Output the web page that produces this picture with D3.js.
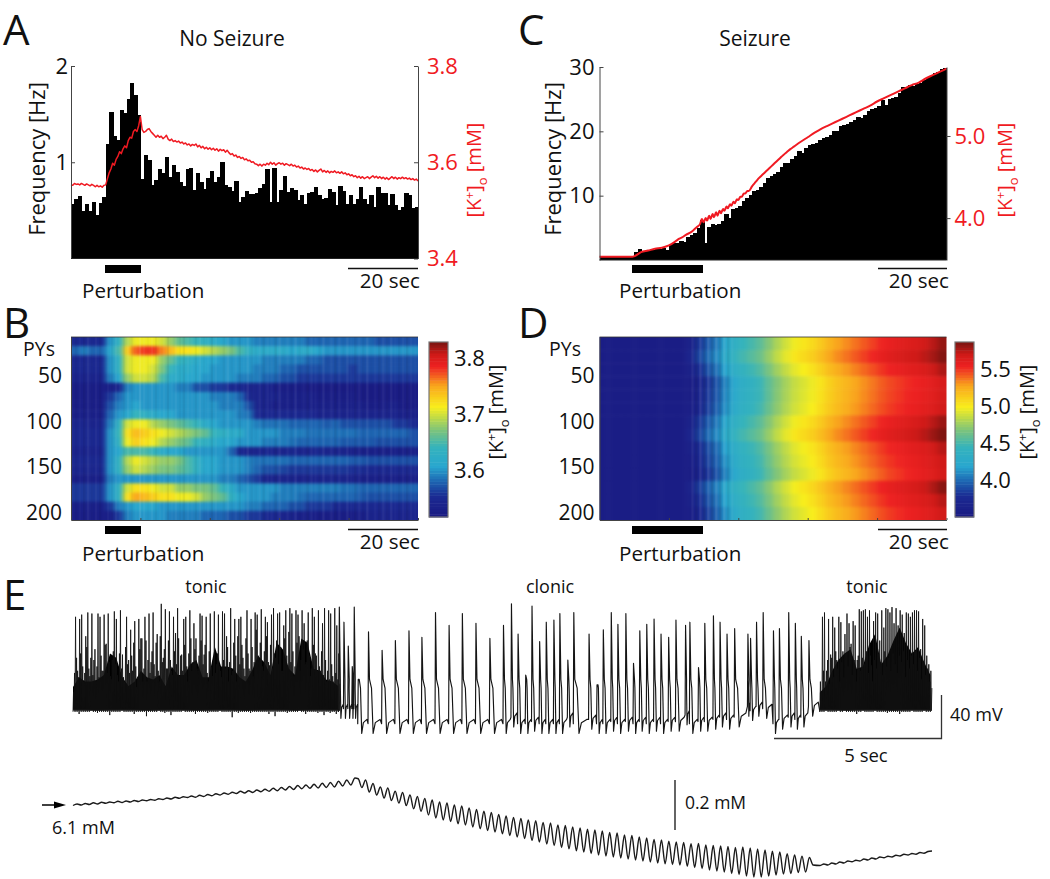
<!DOCTYPE html>
<html><head><meta charset="utf-8"><title>Seizure figure</title>
<script src="https://cdn.jsdelivr.net/npm/d3@7"></script>
<style>
html,body{margin:0;padding:0;background:#fff}
svg{display:block}
text{font-family:"Open Sans","Noto Sans",sans-serif;fill:#111}
.domain{stroke:#444;stroke-width:1}
.tick line{stroke:#444;stroke-width:1}
</style></head><body><svg id="c" width="1050" height="879"></svg>
<script>
// ---------- Panel A: firing rate (Hz) per second, and [K+]o every 0.5 s
const rateNoSeizure=[.57,.62,.65,.49,.57,.49,.59,.45,.58,.64,1.19,1.52,1.27,1.23,1.54,1.51,1.66,1.82,1.70,1.49,.83,1.08,1.02,.76,.82,.93,.89,1.05,.85,.97,.90,.80,.75,.93,.94,.71,.89,.79,.72,.84,.91,.79,.85,1.0,.76,.74,.70,.81,.59,.64,.70,.67,.67,.68,.73,.77,.93,.59,.94,.59,.71,.86,.69,.73,.71,.61,.66,.57,.68,.69,.74,.66,.62,.63,.72,.69,.56,.75,.70,.57,.66,.57,.62,.74,.62,.57,.66,.53,.74,.68,.68,.56,.67,.56,.50,.54,.68,.66,.52,.54];
const kNoSeizure=[3.553,3.552,3.556,3.554,3.555,3.553,3.556,3.554,3.552,3.555,3.553,3.551,3.554,3.552,3.549,3.552,3.549,3.551,3.548,3.552,3.553,
3.566,3.578,3.586,3.598,3.594,3.606,3.612,3.622,3.618,3.628,3.634,3.63,3.645,3.652,3.65,3.664,3.668,3.664,3.676,3.695,
3.668,3.662,3.664,3.668,3.67,3.664,3.66,3.656,3.652,3.656,3.652,3.654,3.649,3.652,3.656,3.648,3.645,3.648,3.643,3.645,
3.642,3.644,3.64,3.642,3.638,3.64,3.636,3.638,3.634,3.637,3.635,3.638,3.632,3.635,3.63,3.633,3.628,3.631,3.627,3.63,
3.626,3.629,3.625,3.628,3.623,3.627,3.624,3.626,3.621,3.625,3.62,3.616,3.618,3.613,3.615,3.61,3.612,3.608,3.61,3.605,
3.607,3.603,3.604,3.6,3.601,3.597,3.596,3.593,3.596,3.592,3.596,3.594,3.598,3.595,3.6,3.596,3.599,3.594,3.597,3.599,
3.596,3.598,3.594,3.597,3.595,3.593,3.596,3.592,3.594,3.59,3.592,3.588,3.59,3.586,3.588,3.585,3.587,3.583,3.585,3.581,
3.584,3.58,3.583,3.586,3.58,3.583,3.579,3.582,3.578,3.581,3.579,3.582,3.578,3.58,3.577,3.58,3.576,3.578,3.574,3.576,
3.572,3.574,3.57,3.572,3.568,3.571,3.567,3.57,3.566,3.568,3.57,3.566,3.569,3.572,3.568,3.571,3.567,3.57,3.566,3.569,
3.565,3.568,3.564,3.567,3.57,3.566,3.569,3.565,3.568,3.566,3.569,3.566,3.568,3.565,3.567,3.564,3.566,3.563,3.565,3.561];

// ---------- Panel C
const rateSeizure=[.5,.5,.5,.5,.5,.5,.5,.5,.5,.5,1.3,1.66,1.45,1.45,1.55,1.55,1.7,1.7,1.8,1.55,2.3,2.6,2.7,3.0,2.85,3.6,3.9,4.25,4.9,6.2,2.6,5.1,5.6,5.4,5.6,6.0,7.2,6.5,8.0,8.1,8.4,9.1,9.6,10.1,10.8,10.9,11.4,12.0,12.7,13.0,13.4,13.75,14.5,15.1,15.1,15.7,16.2,17.0,16.7,17.4,17.9,18.1,18.2,18.6,18.9,19.1,19.5,20,20,20.8,21,21.2,21.4,21.7,22.2,22.0,22.6,23.1,23.5,23.6,24,24.8,24.1,25,25.2,25.4,26,26.9,26.7,27.2,27.1,27.4,27.5,28,28.4,28.6,29,29.3,29.7,29.8];
const kSeizureT=[0,5,9.5,10,12,14,16,18,20,22,23,24,25,26,27,28,29,29.5,30,30.6,31,31.6,32,32.6,33,33.6,34,34.6,35,35.6,36,36.6,37,37.6,38,38.6,39,39.6,40,40.6,41,41.6,42,42.6,43,44,45,46,47,48,49,50,51,52,53,54,55,56,58,60,62,64,66,68,70,72,74,76,78,80,82,84,86,88,90,92,94,96,98,100];
const kSeizureV=[3.53,3.53,3.53,3.535,3.585,3.605,3.626,3.64,3.667,3.72,3.75,3.77,3.8,3.82,3.85,3.89,3.93,3.99,3.95,4.0,3.97,4.03,3.99,4.05,4.01,4.07,4.03,4.09,4.06,4.11,4.09,4.14,4.12,4.17,4.15,4.2,4.18,4.23,4.22,4.26,4.26,4.3,4.3,4.33,4.33,4.39,4.44,4.49,4.53,4.57,4.61,4.65,4.69,4.73,4.77,4.805,4.84,4.87,4.93,4.985,5.04,5.09,5.13,5.17,5.21,5.25,5.29,5.33,5.37,5.42,5.46,5.5,5.54,5.58,5.62,5.65,5.7,5.74,5.78,5.82];

// ---------- Panel B heat map: 20 cell groups (10 PYs each) x 40 time bins (2.5 s)
const heatNoSeizure=[
[3.55,3.55,3.55,3.55,3.60,3.63,3.69,3.71,3.71,3.71,3.70,3.68,3.66,3.65,3.64,3.63,3.62,3.61,3.60,3.60,3.60,3.59,3.59,3.59,3.59,3.59,3.59,3.58,3.58,3.58,3.58,3.58,3.58,3.58,3.58,3.57,3.57,3.57,3.57,3.57],
[3.58,3.59,3.58,3.58,3.61,3.65,3.73,3.77,3.78,3.78,3.76,3.74,3.72,3.72,3.71,3.70,3.69,3.68,3.67,3.65,3.63,3.62,3.62,3.62,3.62,3.61,3.62,3.62,3.61,3.60,3.60,3.60,3.60,3.60,3.60,3.60,3.60,3.60,3.60,3.60],
[3.55,3.55,3.55,3.55,3.60,3.63,3.70,3.71,3.71,3.71,3.68,3.66,3.64,3.63,3.62,3.61,3.61,3.60,3.60,3.60,3.60,3.60,3.59,3.59,3.59,3.59,3.59,3.58,3.58,3.57,3.57,3.57,3.57,3.57,3.57,3.57,3.57,3.57,3.57,3.57],
[3.55,3.55,3.55,3.55,3.60,3.63,3.70,3.71,3.71,3.70,3.67,3.64,3.62,3.62,3.61,3.61,3.60,3.60,3.60,3.60,3.60,3.59,3.59,3.59,3.58,3.58,3.57,3.57,3.57,3.57,3.57,3.57,3.56,3.57,3.57,3.57,3.57,3.57,3.57,3.57],
[3.54,3.54,3.54,3.54,3.59,3.61,3.68,3.70,3.70,3.69,3.65,3.62,3.62,3.61,3.61,3.60,3.60,3.60,3.60,3.59,3.59,3.59,3.58,3.58,3.57,3.57,3.56,3.56,3.56,3.56,3.56,3.56,3.56,3.56,3.56,3.56,3.56,3.56,3.56,3.56],
[3.525,3.525,3.525,3.525,3.53,3.54,3.59,3.60,3.60,3.60,3.60,3.60,3.59,3.59,3.57,3.57,3.56,3.56,3.55,3.55,3.54,3.54,3.54,3.53,3.525,3.525,3.525,3.52,3.52,3.52,3.52,3.52,3.52,3.52,3.52,3.52,3.52,3.52,3.52,3.52],
[3.525,3.525,3.525,3.525,3.56,3.58,3.60,3.60,3.60,3.60,3.60,3.60,3.60,3.60,3.60,3.60,3.59,3.59,3.59,3.58,3.55,3.54,3.54,3.54,3.53,3.53,3.53,3.53,3.525,3.525,3.525,3.525,3.525,3.52,3.52,3.52,3.52,3.52,3.52,3.52],
[3.525,3.525,3.525,3.525,3.57,3.59,3.60,3.61,3.60,3.60,3.60,3.60,3.60,3.60,3.60,3.60,3.60,3.59,3.59,3.59,3.57,3.54,3.54,3.53,3.53,3.53,3.53,3.53,3.53,3.53,3.53,3.53,3.53,3.53,3.525,3.525,3.53,3.53,3.52,3.52],
[3.53,3.53,3.53,3.53,3.58,3.60,3.61,3.64,3.63,3.62,3.61,3.61,3.60,3.60,3.60,3.60,3.60,3.60,3.60,3.59,3.585,3.55,3.55,3.55,3.55,3.55,3.55,3.55,3.54,3.54,3.54,3.54,3.54,3.54,3.54,3.54,3.54,3.54,3.53,3.53],
[3.545,3.545,3.54,3.545,3.59,3.63,3.70,3.71,3.71,3.69,3.68,3.67,3.66,3.65,3.64,3.62,3.61,3.60,3.60,3.60,3.60,3.59,3.585,3.585,3.585,3.58,3.58,3.58,3.58,3.575,3.58,3.57,3.57,3.57,3.57,3.57,3.57,3.56,3.56,3.55],
[3.55,3.55,3.55,3.55,3.60,3.64,3.72,3.74,3.73,3.72,3.71,3.70,3.69,3.68,3.67,3.66,3.64,3.63,3.62,3.62,3.60,3.60,3.60,3.60,3.59,3.59,3.59,3.585,3.585,3.585,3.585,3.585,3.585,3.58,3.58,3.58,3.58,3.58,3.58,3.57],
[3.55,3.55,3.55,3.55,3.60,3.63,3.71,3.73,3.72,3.71,3.69,3.68,3.67,3.66,3.64,3.63,3.62,3.61,3.61,3.60,3.60,3.60,3.59,3.59,3.59,3.585,3.58,3.58,3.58,3.58,3.58,3.575,3.575,3.575,3.575,3.57,3.57,3.57,3.57,3.57],
[3.54,3.54,3.54,3.54,3.60,3.61,3.65,3.65,3.65,3.64,3.62,3.61,3.61,3.60,3.60,3.60,3.60,3.60,3.58,3.55,3.54,3.54,3.55,3.54,3.54,3.55,3.54,3.54,3.55,3.54,3.54,3.54,3.53,3.53,3.53,3.53,3.53,3.53,3.53,3.53],
[3.55,3.55,3.55,3.55,3.60,3.63,3.69,3.71,3.70,3.69,3.68,3.68,3.67,3.65,3.63,3.61,3.61,3.60,3.60,3.60,3.59,3.585,3.585,3.585,3.585,3.58,3.58,3.58,3.58,3.58,3.58,3.58,3.575,3.575,3.57,3.57,3.57,3.57,3.57,3.57],
[3.545,3.545,3.545,3.545,3.60,3.63,3.68,3.70,3.69,3.68,3.67,3.67,3.66,3.65,3.63,3.61,3.61,3.60,3.60,3.60,3.59,3.58,3.57,3.57,3.565,3.56,3.56,3.56,3.56,3.56,3.56,3.56,3.555,3.555,3.55,3.55,3.55,3.55,3.55,3.55],
[3.53,3.53,3.53,3.53,3.59,3.60,3.60,3.60,3.60,3.60,3.60,3.60,3.60,3.60,3.60,3.60,3.60,3.59,3.59,3.58,3.57,3.56,3.54,3.54,3.54,3.54,3.535,3.54,3.54,3.54,3.54,3.54,3.535,3.53,3.53,3.53,3.53,3.53,3.53,3.53],
[3.56,3.56,3.56,3.56,3.60,3.63,3.70,3.72,3.72,3.71,3.70,3.70,3.68,3.68,3.67,3.67,3.66,3.64,3.62,3.60,3.60,3.60,3.60,3.60,3.59,3.59,3.59,3.59,3.59,3.59,3.59,3.585,3.585,3.58,3.58,3.58,3.58,3.58,3.58,3.58],
[3.56,3.56,3.56,3.56,3.60,3.63,3.72,3.75,3.74,3.73,3.72,3.72,3.71,3.71,3.70,3.68,3.67,3.66,3.63,3.61,3.60,3.60,3.60,3.59,3.59,3.59,3.585,3.58,3.58,3.58,3.58,3.58,3.58,3.575,3.57,3.57,3.57,3.57,3.57,3.57],
[3.53,3.53,3.53,3.53,3.56,3.59,3.60,3.61,3.61,3.61,3.60,3.60,3.60,3.60,3.60,3.60,3.60,3.60,3.60,3.60,3.59,3.59,3.58,3.58,3.58,3.57,3.57,3.56,3.56,3.56,3.55,3.55,3.55,3.55,3.55,3.55,3.55,3.55,3.55,3.55],
[3.525,3.525,3.525,3.525,3.53,3.56,3.59,3.60,3.60,3.60,3.60,3.59,3.59,3.59,3.59,3.58,3.58,3.58,3.57,3.57,3.56,3.56,3.55,3.55,3.54,3.54,3.53,3.53,3.525,3.525,3.525,3.525,3.525,3.53,3.54,3.54,3.54,3.54,3.54,3.54]
];
// brightness of the vertical streaks across panel B, left to right (-1 dark, +1 light)
const streakNoSeizure=[.3,-.4,.2,-.6,.5,-.2,.4,-.5,.1,.3,-.3,.5,.2,-.4,.6,-.3,.2,1,.5,-.2,.6,-.5,.3,.4,-.6,.2,.5,-.3,-.6,.4,.2,-.5,.6,-.2,.3,-.7,.5,.1,-.4,.6,-.3,.4,-.6,.2,.7,-.4,-.2,.5,-.6,.4,.3,-.7,.6,-.2,.4,-.5,.7,-.3,.2,-.6,.5,.3,-.5,.7,-.2,.4,-.7,.5,-.3,.6,.2,-.6,.4,-.4,.7,-.2,.3,-.6,.5,-.4,.6,.2,-.5,.4,-.6,.3,.2];

// ---------- Panel D heat map: 14 cell groups x 40 time bins (2.5 s)
const heatSeizure=[
[3.55,3.55,3.55,3.55,3.55,3.55,3.55,3.55,3.55,3.55,3.63,3.83,3.95,4.05,4.23,4.36,4.45,4.51,4.58,4.7,4.81,4.9,4.98,5.03,5.08,5.15,5.23,5.29,5.34,5.39,5.44,5.49,5.54,5.58,5.61,5.64,5.66,5.7,5.76,5.83],
[3.55,3.55,3.55,3.55,3.55,3.55,3.55,3.55,3.55,3.55,3.68,3.88,4.0,4.1,4.28,4.41,4.5,4.56,4.63,4.75,4.86,4.95,5.03,5.08,5.13,5.2,5.28,5.34,5.39,5.44,5.49,5.54,5.59,5.63,5.66,5.69,5.71,5.75,5.8,5.86],
[3.55,3.55,3.55,3.55,3.55,3.55,3.55,3.55,3.55,3.55,3.6,3.8,3.92,4.02,4.2,4.33,4.42,4.48,4.55,4.67,4.78,4.87,4.95,5.0,5.05,5.12,5.2,5.26,5.31,5.36,5.41,5.46,5.51,5.55,5.58,5.61,5.63,5.66,5.72,5.78],
[3.55,3.55,3.55,3.55,3.55,3.55,3.55,3.55,3.55,3.55,3.56,3.68,3.82,3.92,4.08,4.23,4.34,4.4,4.47,4.59,4.7,4.79,4.87,4.92,4.97,5.04,5.12,5.18,5.23,5.28,5.33,5.38,5.43,5.47,5.5,5.53,5.55,5.58,5.62,5.67],
[3.55,3.55,3.55,3.55,3.55,3.55,3.55,3.55,3.55,3.55,3.56,3.7,3.84,3.94,4.1,4.25,4.35,4.41,4.47,4.59,4.71,4.8,4.88,4.93,4.98,5.05,5.13,5.19,5.24,5.29,5.34,5.39,5.44,5.48,5.51,5.54,5.56,5.59,5.63,5.68],
[3.55,3.55,3.55,3.55,3.55,3.55,3.55,3.55,3.55,3.55,3.57,3.72,3.86,3.97,4.12,4.27,4.37,4.43,4.5,4.62,4.73,4.82,4.9,4.95,5.0,5.07,5.15,5.21,5.26,5.31,5.36,5.41,5.46,5.5,5.53,5.56,5.58,5.61,5.65,5.7],
[3.55,3.55,3.55,3.55,3.55,3.55,3.55,3.55,3.55,3.55,3.63,3.83,3.95,4.05,4.23,4.36,4.45,4.51,4.58,4.7,4.81,4.9,4.98,5.03,5.08,5.15,5.23,5.29,5.34,5.39,5.44,5.49,5.54,5.58,5.61,5.64,5.67,5.71,5.76,5.82],
[3.55,3.55,3.55,3.55,3.55,3.55,3.55,3.55,3.55,3.55,3.67,3.87,4.0,4.1,4.28,4.41,4.5,4.56,4.63,4.75,4.86,4.95,5.03,5.08,5.13,5.2,5.28,5.34,5.39,5.44,5.49,5.54,5.59,5.63,5.66,5.69,5.72,5.76,5.82,5.87],
[3.55,3.55,3.55,3.55,3.55,3.55,3.55,3.55,3.55,3.55,3.6,3.78,3.9,4.0,4.18,4.32,4.41,4.47,4.54,4.66,4.77,4.86,4.94,4.99,5.04,5.11,5.19,5.25,5.3,5.35,5.4,5.45,5.5,5.54,5.57,5.6,5.62,5.65,5.7,5.76],
[3.55,3.55,3.55,3.55,3.55,3.55,3.55,3.55,3.55,3.55,3.58,3.73,3.87,3.97,4.13,4.28,4.38,4.44,4.5,4.63,4.74,4.83,4.91,4.96,5.01,5.08,5.16,5.22,5.27,5.32,5.37,5.42,5.47,5.51,5.54,5.57,5.59,5.62,5.66,5.71],
[3.55,3.55,3.55,3.55,3.55,3.55,3.55,3.55,3.55,3.55,3.56,3.68,3.82,3.92,4.08,4.23,4.34,4.4,4.47,4.59,4.7,4.79,4.87,4.92,4.97,5.04,5.12,5.18,5.23,5.28,5.33,5.38,5.43,5.48,5.51,5.54,5.57,5.6,5.64,5.69],
[3.55,3.55,3.55,3.55,3.55,3.55,3.55,3.55,3.55,3.55,3.65,3.85,3.97,4.07,4.25,4.38,4.46,4.52,4.59,4.71,4.82,4.91,4.99,5.04,5.09,5.16,5.24,5.3,5.35,5.4,5.45,5.5,5.55,5.59,5.62,5.65,5.68,5.72,5.78,5.85],
[3.55,3.55,3.55,3.55,3.55,3.55,3.55,3.55,3.55,3.55,3.6,3.8,3.92,4.02,4.2,4.33,4.42,4.48,4.55,4.67,4.78,4.87,4.95,5.0,5.05,5.12,5.2,5.26,5.31,5.36,5.41,5.46,5.51,5.55,5.58,5.61,5.63,5.66,5.71,5.76],
[3.55,3.55,3.55,3.55,3.55,3.55,3.55,3.55,3.55,3.55,3.57,3.72,3.86,3.97,4.12,4.27,4.37,4.43,4.5,4.62,4.73,4.82,4.9,4.95,5.0,5.07,5.15,5.21,5.26,5.31,5.36,5.41,5.46,5.5,5.53,5.56,5.58,5.61,5.65,5.7]
];
// vertical stripes across panel D
const streakSeizure=[0,0,0,0,0,0,0,0,0,0,0,0,0,0,0,0,0,0,0,0,0,0,0,.4,-.5,.6,-.6,.7,-.6,.7,-.5,.6,-.4,.3,0,0,0,0,0,0,0,0,0,0,0,0,0,0,0,0,0,0,0,0,0,0,0,0,0,0,0,0,0,0,0,0,0,0,0,0,0,0,0,0,0,0,0,0,0,0,0,0,0,0,0,0,0];

// ---------- Panel E voltage trace (mV, t in seconds)
const tonic1Peaks=[-40,30,-20,28,32,-30,12,34,-25,33,-10,-30,33,30,-20,32,5,33,-25,-10,35,28,-30,36,-5,-30,30,-10,18,-20,26,-35,28,10,-30,30,-30,33,-12,34,-25,14,-30,42,-8,37,-18,35,-20,30,15,38,-25,-5,28,30,-30,36,-20,24,10,-20,33,31,-5,30,-30,33,-25,35,-14,32,-20,35,33,12,-30,38,-20,28,-30,28,30,-8,-25,36,-18,28,-25,34,32,-10,37,-20,30,25,-15,32,38,-8,33,34,-20,22,36,-15,38,33,-25,36,32,-20,36,24,-12,34,-25,38,30,-6,36,-20,24,38,-30,36,33,-25,38,22,-4];
const tonic1Mid=[-22,-8,-26,-4,-16,-22,2,-18,-8,-24,0,-16,-26,-6,-20,4,-22,-12,-28,-2,-14,-24,-4,-18,-26,2,-14,-22,-6,6,-16,-26,0,10,-18,8,-10,-22,-2,-14,6,-20,12,-12,0,-18,8,-10,-24,-2,-14,10,-6,-20,4,-16,-4,10,-12,0,-18,-6,8,-14,4,-22,-2,-16,-10,-22,-4,-16,-26,-10,-18,2,-12,-24,6,-6,12,-14,4,-18,10,-4,-20,2,-12,18,-6,6,-16,-2,12,-12,4,-18,-4,8,-14,2,-20,10,-6,16,-12,-2,-16,6,12,-10,0,-14,8,-6,-18,4,-4,-20,-16,-2,-24,-10,-20,-28,-14,-30,-22,-28,-32];
const tonic1Body=[-35,-26,-30,-30,-28,-24,-4,-8,-26,-34,-30,-20,-26,-28,-24,-34,-16,-24,-24,-14,-10,-26,-26,2,-16,-16,-18,-26,-30,-20,-6,-12,-24,6,0,-18,-24,10,6,-18,-20,-28,-30,-34];
const tonic1Base=[-58,-60,-58,-57,-59,-58,-61,-58,-57,-58,-60,-58,-62,-58,-57,-59,-61,-58,-57,-58,-60,-58,-59,-58,-57,-58,-63,-59,-58,-59,-58,-58,-60,-62,-58,-59,-58,-57,-60,-58,-59,-61,-59,-60];
const tonic2Peaks=[-30,30,34,-20,28,-5,30,20,-10,30,25,-2,14,33,24,5,26,22,-10,37,35,36,37,30,36,-15,26,34,33,8,36,20,38,37,34,39,24,38,22,36,32,15,34,33,30,34,36,36,35,0,28,22,-6,-14,-20];
const tonic2Mid=[-40,-20,-30,-10,-32,-8,-26,-2,-18,-30,-12,-26,-4,-16,2,-24,-10,-30,-6,-20,-8,-14,-2,-22,-6,-30,-10,-18,-4,-12,-24,-2,-16,-8,-20,-4,-14,-22,-6,-12,-2,-26,-10,-18,-6,-14,-2,-20,-8,-28,-12,-24,-18,-30,-36];
const tonic2Body=[-40,-34,-20,-10,-4,0,-18,-16,4,14,-14,-6,8,20,6,-4,2,-12,-24];
const tonic2Base=[-58,-57,-58,-57,-57,-58,-60,-57,-58,-57,-58,-59,-58,-60,-58,-57,-58,-57,-58];
const clonicTimes=[8.03,8.17,8.3,8.42,8.48,8.6,8.91,9.32,9.72,10.13,10.52,10.93,11.34,11.74,12.15,12.57,12.98,13.22,13.42,13.65,13.84,14.07,14.27,14.5,14.68,14.92,15.1,15.56,15.8,15.99,16.23,16.43,16.67,16.9,17.09,17.3,17.52,17.73,17.96,18.18,18.47,18.6,18.86,19.05,19.31,19.51,19.72,19.95,20.35,20.43,20.61,20.81,21.12,21.3,21.58,21.78,21.96,22.19];
const clonicPeaks=[39,25,3,-16,39,-28,16,-1,8,17,11,34,22,33,24,10,22,42,14,-24,40,7,25,27,33,-10,34,14,-33,18,34,23,33,-13,17,23,28,14,11,27,22,25,-17,24,31,25,14,19,14,10,25,34,17,19,34,24,12,8];
const clonicDips=[-64,-64,-64,-64,-64,-78,-78,-78,-78,-78,-78,-78,-78,-78,-78,-78,-78,-72,-78,-78,-76,-78,-78,-78,-78,-72,-78,-74,-78,-78,-76,-78,-76,-78,-76,-78,-76,-78,-76,-76,-70,-78,-76,-76,-74,-72,-74,-72,-62,-66,-62,-64,-78,-74,-72,-74,-72,-62];

// ---------- Panel E [K+]o trace (mM)
const kTonicRamp=[6.098,6.104,6.1,6.106,6.102,6.109,6.104,6.111,6.107,6.112,6.109,6.115,6.11,6.116,6.112,6.118,6.114,6.12,6.117,6.122,6.119,6.125,6.122,6.128,6.124,6.131,6.127,6.133,6.13,6.136,6.131,6.139,6.134,6.142,6.137,6.145,6.14,6.148,6.143,6.151,6.146,6.155,6.148,6.157,6.15,6.16,6.153,6.163,6.155,6.167,6.157,6.17,6.16,6.174,6.162,6.178,6.165,6.18,6.167,6.183,6.168,6.187,6.17,6.19,6.172,6.195,6.176,6.2,6.18,6.208];
const kClonicHigh=[6.205,6.2,6.186,6.172,6.168,6.155,6.15,6.14,6.134,6.126,6.12,6.112,6.108,6.1,6.096,6.088,6.082,6.075,6.07,6.062,6.056,6.05,6.046,6.04,6.037,6.03,6.028,6.02,6.018,6.012,6.008,6.003,6.0,5.996,5.99,5.988,5.98,5.978,5.972,5.968,5.962,5.96,5.955,5.952,5.95,5.945,5.946,5.94,5.938,5.936,5.934,5.93,5.932,5.928,5.924,5.92,5.915,5.912,5.905,5.9,5.895,5.89];
const kClonicLow=[6.17,6.152,6.14,6.128,6.118,6.108,6.098,6.085,6.075,6.06,6.048,6.04,6.034,6.025,6.02,6.012,6.005,5.998,5.992,5.985,5.978,5.972,5.966,5.958,5.952,5.944,5.938,5.93,5.925,5.917,5.912,5.906,5.9,5.896,5.892,5.888,5.884,5.88,5.876,5.872,5.868,5.865,5.862,5.86,5.855,5.85,5.846,5.84,5.836,5.832,5.826,5.822,5.816,5.812,5.812,5.816,5.82,5.824,5.826,5.83,5.832,5.86];
const kRecovery=[5.858,5.864,5.86,5.868,5.864,5.872,5.868,5.876,5.873,5.879,5.876,5.884,5.88,5.888,5.884,5.892,5.889,5.895,5.892,5.899,5.896,5.903,5.9,5.906,5.903,5.91,5.907,5.914,5.916];

const freqTicksA=[1,2], freqTicksC=[10,20,30], kTicksA=[3.4,3.6,3.8], kTicksC=[4,5];
const pyTicks=[50,100,150,200], cbTicksB=[3.6,3.7,3.8], cbTicksD=[4,4.5,5,5.5];
const jet=[[0,"#1a1a82"],[.12,"#1b2a92"],[.2,"#1d62b0"],[.29,"#28a6cf"],[.4,"#35b3bc"],[.5,"#7fc47a"],[.63,"#f8ee1c"],[.75,"#f9a71d"],[.86,"#ee2222"],[.93,"#cf1a18"],[1,"#7a1410"]];

// ---------- Drawing
const RED="#f01a22";
const svg=d3.select("#c");
const defs=svg.append("defs");
const f=defs.append("filter").attr("id","soft").attr("filterUnits","userSpaceOnUse").attr("x",0).attr("y",300).attr("width",1050).attr("height",260)
  .attr("color-interpolation-filters","sRGB");
f.append("feGaussianBlur").attr("stdDeviation","2.5 1.6");
const jetScale=d3.scaleLinear().domain(jet.map(d=>d[0])).range(jet.map(d=>d[1]));

function label(x,y,s,o={}){
  const t=svg.append("text").attr("x",x).attr("y",y).text(s).attr("font-size",o.size||20.6);
  if(o.anchor)t.attr("text-anchor",o.anchor);
  if(o.fill)t.style("fill",o.fill);
  return t;
}
function kLabel(x,y,fill){
  const t=svg.append("text").attr("transform",`translate(${x},${y}) rotate(-90)`).attr("text-anchor","middle").attr("font-size",20).style("fill",fill);
  t.append("tspan").text("[K");
  t.append("tspan").text("+").attr("font-size",12).attr("dy",-7);
  t.append("tspan").text("]").attr("dy",7);
  t.append("tspan").text("o").attr("font-size",13).attr("dy",6);
  t.append("tspan").text(" [mM]").attr("dy",-6);
}
function vLabel(x,y,s){
  svg.append("text").attr("transform",`translate(${x},${y}) rotate(-90)`).attr("text-anchor","middle").attr("font-size",22).text(s);
}
function styleAxis(g,fill,size){g.selectAll("text").attr("font-size",size||22).style("font-family",'"Open Sans","Noto Sans",sans-serif').style("fill",fill||"#111");g.attr("fill",null);}
function scaleBarAndPert(x0,x1,yBar,yLine,pertX,scaleX0,scaleX1,yPertText,yScaleText){
  svg.append("rect").attr("x",x0).attr("y",yBar).attr("width",x1-x0).attr("height",8).attr("fill","#000");
  label(pertX,yPertText,"Perturbation");
  svg.append("line").attr("x1",scaleX0).attr("x2",scaleX1).attr("y1",yLine).attr("y2",yLine).attr("stroke","#111").attr("stroke-width",1.5);
  label(scaleX1+2,yScaleText,"20 sec",{anchor:"end"});
}

function barPanel(box,rates,yMax,kDomain,kT,kV,lineW,freqTicks,kTicks,kOut,leftPad,curve){
  const x=d3.scaleLinear().domain([0,100]).range([box.l,box.r]);
  const y=d3.scaleLinear().domain([0,yMax]).range([box.b,box.t]);
  const yk=d3.scaleLinear().domain(kDomain).range([box.b,box.t]);
  svg.append("g").attr("shape-rendering","crispEdges").selectAll("rect").data(rates).join("rect")
    .attr("x",(d,i)=>x(i)).attr("width",(d,i)=>x(i+1)-x(i)+(i<rates.length-1?1:0))
    .attr("y",d=>y(d)).attr("height",d=>y(0)-y(d)).attr("fill","#000");
  svg.append("path").attr("d",d3.line().curve(curve).x((d,i)=>x(kT(i))).y(d=>yk(d))(kV)).attr("fill","none").attr("stroke",RED).attr("stroke-width",lineW).attr("stroke-linejoin","round");
  const gl=svg.append("g").attr("transform",`translate(${box.l},0)`).call(d3.axisLeft(y).tickValues(freqTicks).tickSizeInner(-4).tickSizeOuter(0).tickPadding(leftPad).tickFormat(d3.format("d")));
  styleAxis(gl);
  const gr=svg.append("g").attr("transform",`translate(${box.r},0)`).call(d3.axisRight(yk).tickValues(kTicks).tickSizeInner(kOut?4:-4).tickSizeOuter(0).tickPadding(kOut?4:9).tickFormat(d3.format(".1f")));
  styleAxis(gr,RED);
  svg.append("line").attr("x1",box.l).attr("x2",box.r).attr("y1",box.b).attr("y2",box.b).attr("stroke","#222");
}
barPanel({l:71,r:418,t:66,b:258.5},rateNoSeizure,2,[3.4,3.8],i=>i*.5,kNoSeizure,1.5,freqTicksA,kTicksA,false,3,d3.curveLinear);
barPanel({l:599.5,r:946.5,t:67,b:260},rateSeizure,30,[3.49,5.84],i=>kSeizureT[i],kSeizureV,2,freqTicksC,kTicksC,true,5,d3.curveMonotoneX);

let clipN=0;
function heatPanel(box,mat,domain,yPad,streak,streakOp){
  const rows=d3.range(mat.length), cols=d3.range(mat[0].length);
  const xb=d3.scaleBand().domain(cols).range([box.l,box.r]);
  const yb=d3.scaleBand().domain(rows).range([box.t,box.b]);
  const col=v=>jetScale((v-domain[0])/(domain[1]-domain[0]));
  const id="clip"+(clipN++);
  defs.append("clipPath").attr("id",id).append("rect").attr("x",box.l).attr("y",box.t).attr("width",box.r-box.l).attr("height",box.b-box.t);
  const outer=svg.append("g").attr("clip-path",`url(#${id})`);
  const g=outer.append("g").attr("filter","url(#soft)");
  const pad=12; // cells on the rim run past the plot so the softening does not fade at the edge
  g.selectAll("g").data(mat).join("g").selectAll("rect").data((r,i)=>r.map((v,j)=>({v,i,j}))).join("rect")
    .attr("x",d=>xb(d.j)-(d.j===0?pad:0))
    .attr("y",d=>yb(d.i)-(d.i===0?pad:0))
    .attr("width",d=>xb.bandwidth()+.5+((d.j===0||d.j===cols.length-1)?pad:0))
    .attr("height",d=>yb.bandwidth()+.5+((d.i===0||d.i===rows.length-1)?pad:0))
    .attr("fill",d=>col(d.v));
  const sx=d3.scaleBand().domain(d3.range(streak.length)).range([box.l,box.r]);
  outer.append("g").selectAll("rect").data(streak).join("rect")
    .attr("x",(d,i)=>sx(i)).attr("y",box.t).attr("width",sx.bandwidth()*.6).attr("height",box.b-box.t)
    .attr("fill",d=>d>0?"#fff":"#000").attr("opacity",d=>Math.abs(d)*streakOp);
  const py=d3.scaleLinear().domain([0,200]).range([box.t,box.b]);
  const gl=svg.append("g").attr("transform",`translate(${box.l},0)`).call(d3.axisLeft(py).tickValues(pyTicks).tickSize(0).tickPadding(yPad));
  styleAxis(gl,null,21);
  gl.selectAll("text").attr("dy","-.02em");
  gl.select(".domain").attr("stroke","#333");
  const tx=d3.scaleLinear().domain([0,100]).range([box.l,box.r]);
  const gb=svg.append("g").attr("transform",`translate(0,${box.b})`).call(d3.axisTop(tx).tickValues([20,40,60,80,100]).tickSize(2).tickSizeOuter(0).tickFormat(""));
  gb.select(".domain").attr("stroke","#333");
  svg.append("line").attr("x1",box.l).attr("x2",box.r).attr("y1",box.t).attr("y2",box.t).attr("stroke","#333").attr("stroke-width",.8);
}
function colorBar(x,w,t,b,domain,ticks){
  const y=d3.scaleLinear().domain(domain).range([b,t]);
  const levels=d3.range(64);
  svg.append("g").selectAll("rect").data(levels).join("rect")
    .attr("x",x).attr("width",w).attr("y",l=>b-(l+1)*(b-t)/64).attr("height",(b-t)/64+.5)
    .attr("fill",l=>jetScale((l+.5)/64));
  svg.append("rect").attr("x",x).attr("y",t).attr("width",w).attr("height",b-t).attr("fill","none").attr("stroke","#777").attr("stroke-width",1.2);
  const g=svg.append("g").attr("transform",`translate(${x+w},0)`).call(d3.axisRight(y).tickValues(ticks).tickSize(0).tickPadding(6).tickFormat(d3.format(".1f")));
  g.select(".domain").remove();
  styleAxis(g);
}
const boxB={l:71,r:418,t:337,b:520}, boxD={l:599.5,r:946.5,t:337,b:520};
heatPanel(boxB,heatNoSeizure,[3.516,3.829],9,streakNoSeizure,.09);
heatPanel(boxD,heatSeizure,[3.5,5.88],5,streakSeizure,.14);
colorBar(429,19,342,517,[3.516,3.829],cbTicksB);
colorBar(955,19,342,517,[3.5,5.88],cbTicksD);

// Panel letters and titles
label(3,45,"A",{size:42}); label(518,45,"C",{size:42});
label(3,338,"B",{size:42}); label(518,338,"D",{size:42}); label(3,610,"E",{size:42});
label(232,46,"No Seizure",{anchor:"middle",size:21}); label(755,46,"Seizure",{anchor:"middle",size:21});
vLabel(45,159,"Frequency [Hz]"); vLabel(561,159,"Frequency [Hz]");
kLabel(481,170,RED); kLabel(1012,170,RED);
kLabel(503,412,"#111"); kLabel(1034,412,"#111");
label(23,356,"PYs",{size:19.5}); label(549,356,"PYs",{size:19.5});
scaleBarAndPert(105,141,265,268.5,82,348,418,298,288);
scaleBarAndPert(632,703,265,268.5,619,878,947,298,288);
scaleBarAndPert(105,141,526,529.5,82,348,418,561,549);
scaleBarAndPert(632,703,526,529.5,619,878,947,561,549);

// Panel E traces
const xE=d3.scaleLinear().domain([0,25.9]).range([73,932]);
const yV=d3.scaleLinear().domain([-60,40]).range([714,606]);
const yK=d3.scaleLinear().domain([5.9,6.1]).range([855,805]);
function tonicBlock(t0,t1,peaks,mid,body,base){
  const dtB=(t1-t0)/(body.length-1), dtP=(t1-t0)/(peaks.length-1);
  svg.append("path").attr("d",d3.area().x((d,i)=>xE(t0+i*dtB)).y0(yV(-56)).y1(d=>yV(d))(body)).attr("fill","#000");
  const zig=[];
  peaks.forEach((p,i)=>{
    const t=t0+i*dtP;
    // the recorded dips show only on one trough out of three
    const b=i%3===0?base[Math.round(i*dtP/dtB)]:-58;
    zig.push([t,b],[t+dtP*.25,p],[t+dtP*.5,-57],[t+dtP*.75,mid[i]]);
  });
  svg.append("path").attr("d",d3.line().x(d=>xE(d[0])).y(d=>yV(d[1]))(zig)).attr("fill","none").attr("stroke","#111").attr("stroke-width",.85);
}
tonicBlock(0,8,tonic1Peaks,tonic1Mid,tonic1Body,tonic1Base);
tonicBlock(22.52,25.85,tonic2Peaks,tonic2Mid,tonic2Body,tonic2Base);
const cl=[[8.0,-58]];
clonicTimes.forEach((t,i)=>{
  const next=i<clonicTimes.length-1?clonicTimes[i+1]:22.52;
  const gap=next-t, dip=clonicDips[i];
  cl.push([t-.015,Math.max(dip+9,-70)],[t,clonicPeaks[i]],[t+.03,Math.min(-28,clonicPeaks[i])],[t+gap*.22,-36],[t+gap*.34,dip],[t+gap*.5,dip+10],[t+gap*.85,dip+13]);
});
cl.push([22.52,-58]);
svg.append("path").attr("d",d3.line().x(d=>xE(d[0])).y(d=>yV(d[1]))(cl)).attr("fill","none").attr("stroke","#151515").attr("stroke-width",1.15).attr("stroke-linejoin","round");

const kPts=[];
kTonicRamp.forEach((v,i)=>kPts.push([i*8.5/69,v]));
kClonicHigh.forEach((v,i)=>{kPts.push([8.6+i*.223,v]);kPts.push([8.71+i*.223,kClonicLow[i]]);});
kRecovery.forEach((v,i)=>kPts.push([22.52+i*3.38/28,v]));
svg.append("path").attr("d",d3.line().x(d=>xE(d[0])).y(d=>yK(d[1])).curve(d3.curveMonotoneX)(kPts)).attr("fill","none").attr("stroke","#1a1a1a").attr("stroke-width",1.4);

// Panel E annotations
label(206,593,"tonic",{size:18,anchor:"middle"});
label(550,593,"clonic",{size:18,anchor:"middle"});
label(867,593,"tonic",{size:18,anchor:"middle"});
svg.append("path").attr("d","M774 738.5H941.5V695").attr("fill","none").attr("stroke","#333").attr("stroke-width",1.3);
label(950,721,"40 mV",{size:18}); label(866,762,"5 sec",{size:18.5,anchor:"middle"});
svg.append("line").attr("x1",675).attr("x2",675).attr("y1",780).attr("y2",830).attr("stroke","#111").attr("stroke-width",1.3);
label(685,809,"0.2 mM",{size:17.5}); label(52,834,"6.1 mM",{size:18});
svg.append("line").attr("x1",42).attr("x2",58).attr("y1",805).attr("y2",805).attr("stroke","#000").attr("stroke-width",1.5);
svg.append("path").attr("d","M66 805L54 801.5V808.5Z").attr("fill","#000");
</script></body></html>
